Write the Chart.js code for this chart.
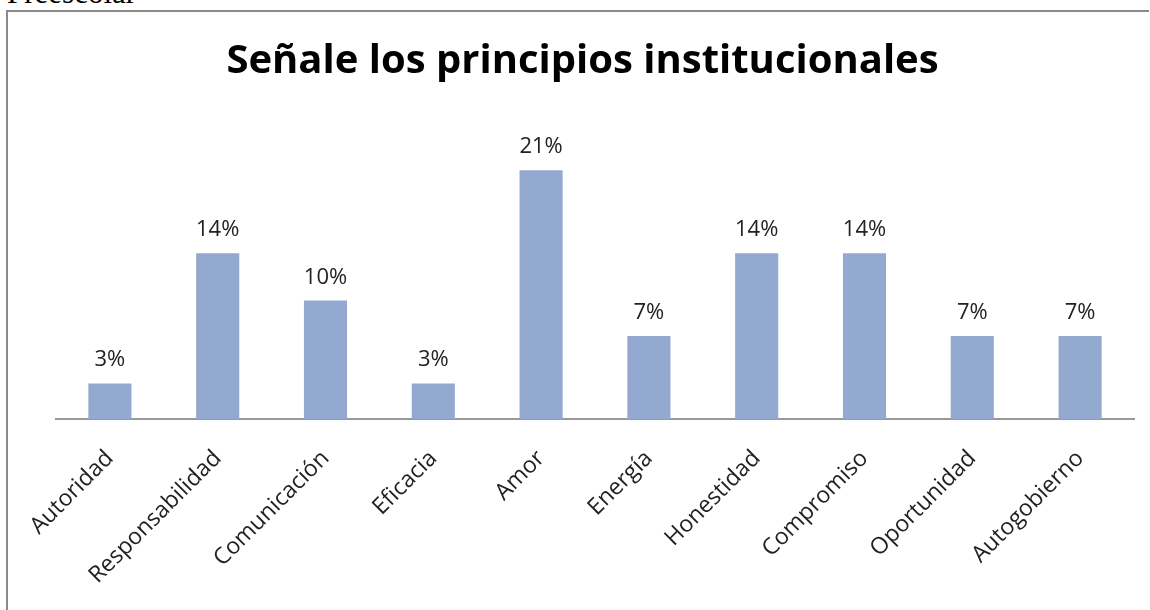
<!DOCTYPE html>
<html>
<head>
<meta charset="utf-8">
<script src="https://cdn.jsdelivr.net/npm/chart.js@4.4.1/dist/chart.umd.min.js"></script>
<style>
  html, body { margin: 0; padding: 0; background: #fff; overflow: hidden; }
  #caption {
    position: absolute; left: 7px; top: -23px;
    font: 31px "Liberation Serif", "Times New Roman", serif;
    line-height: 31px; color: #000; white-space: nowrap;
  }
  #frame {
    position: absolute; left: 6px; top: 10px;
    width: 1141px; height: 598px;
    border: 2px solid #8a8a8a; border-right: none; border-bottom: none;
  }
  #frame canvas { display: block; }
</style>
</head>
<body>
<div id="caption">Preescolar</div>
<div id="frame"><canvas id="barChart" width="1141" height="598"></canvas></div>
<script>
// principios institucionales (%)
const categories = ['Autoridad', 'Responsabilidad', 'Comunicación', 'Eficacia', 'Amor',
                    'Energía', 'Honestidad', 'Compromiso', 'Oportunidad', 'Autogobierno'];
const percents = [3, 14, 10, 3, 21, 7, 14, 14, 7, 7];
const chartTitle = 'Señale los principios institucionales';

// value labels above each bar
const barLabels = {
  id: 'barLabels',
  afterDatasetsDraw(chart) {
    const ctx = chart.ctx;
    const meta = chart.getDatasetMeta(0);
    ctx.save();
    ctx.font = '22px "Open Sans", sans-serif';
    ctx.fillStyle = '#222';
    ctx.textAlign = 'center';
    ctx.textBaseline = 'alphabetic';
    meta.data.forEach((bar, i) => {
      ctx.fillText(percents[i] + '%', bar.x, bar.y - 17);
    });
    ctx.restore();
  }
};

const ctx = document.getElementById('barChart').getContext('2d');
new Chart(ctx, {
  type: 'bar',
  data: {
    labels: categories,
    datasets: [{
      data: percents,
      backgroundColor: '#94a9d0',
      borderWidth: 0,
      barPercentage: 0.4,
      categoryPercentage: 1.0
    }]
  },
  options: {
    responsive: false,
    animation: false,
    layout: { padding: { left: 23, right: 15, top: 0, bottom: 0 } },
    scales: {
      x: {
        grid: { display: false },
        border: { display: true, color: '#999', width: 2 },
        ticks: {
          color: '#222',
          font: { family: '"Open Sans", sans-serif', size: 23 },
          minRotation: 45,
          maxRotation: 45,
          padding: 18
        },
        afterFit: s => { s.height = 191; }
      },
      y: {
        min: 0,
        max: 25,
        display: true,
        grid: { display: false },
        border: { display: false },
        ticks: { display: false },
        afterFit: s => { s.width = 25; }
      }
    },
    plugins: {
      legend: { display: false },
      tooltip: { enabled: false },
      title: {
        display: true,
        text: chartTitle,
        color: '#000',
        font: { family: '"Open Sans", sans-serif', size: 40, weight: 'bold', lineHeight: 1.2 },
        padding: { top: 26, bottom: 37 }
      }
    }
  },
  plugins: [barLabels]
});
</script>
</body>
</html>
